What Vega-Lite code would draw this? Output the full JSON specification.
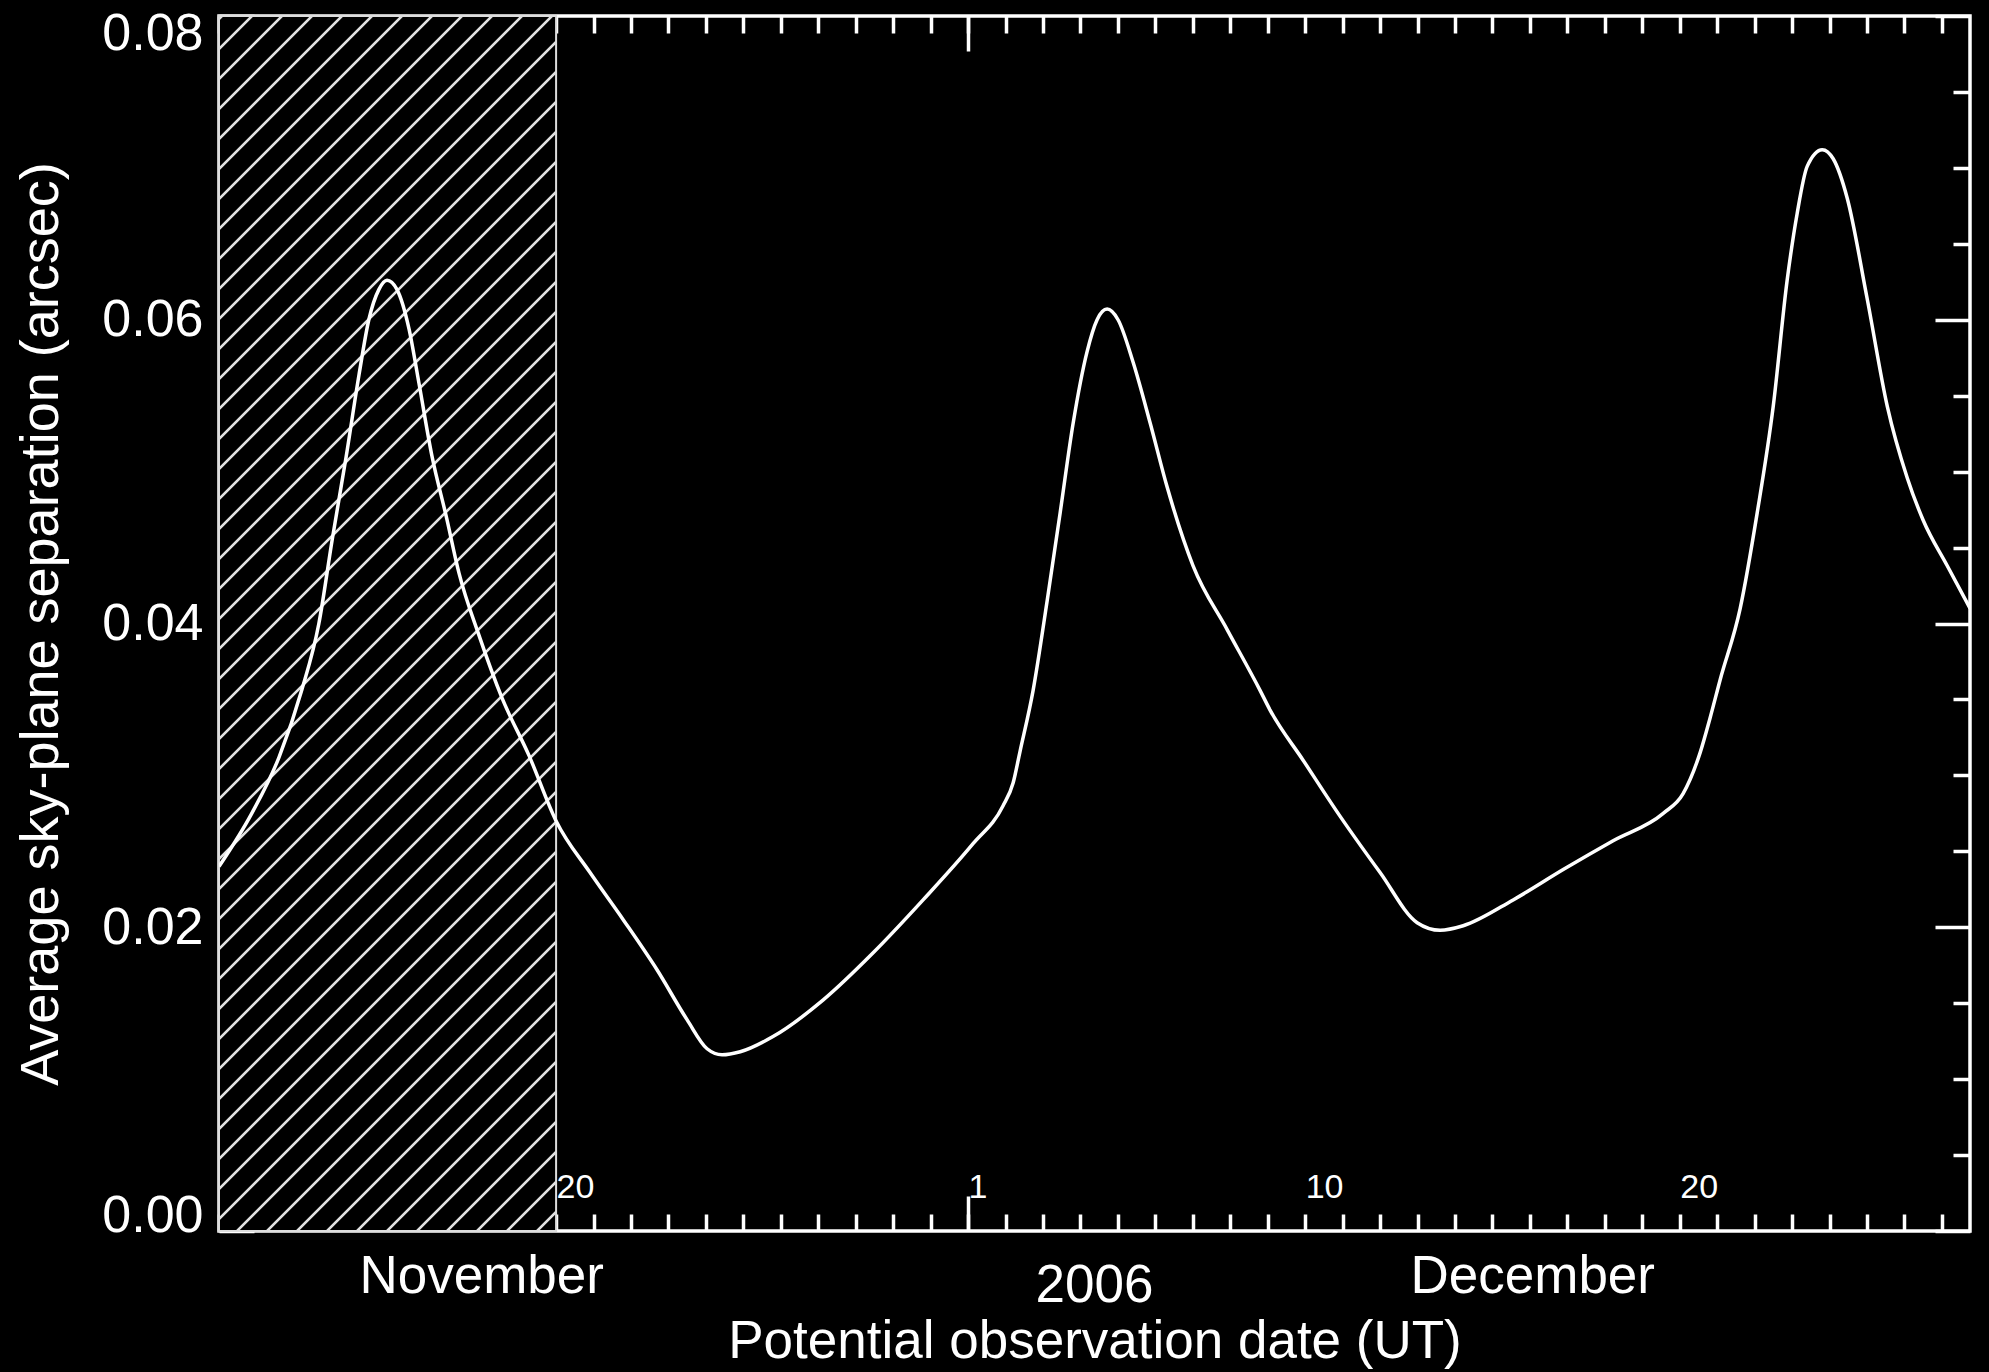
{
  "$schema": "https://vega.github.io/schema/vega-lite/v6.json",
  "width": 1751,
  "height": 1215,
  "autosize": {"type": "none"},
  "padding": {"left": 219, "top": 16, "right": 19, "bottom": 141},
  "background": "#000000",
  "datasets": {
    "curve": [
      {"date": "2006-11-11T00:00:00Z", "sep": 0.0240},
      {"date": "2006-11-11T21:00:00Z", "sep": 0.0275},
      {"date": "2006-11-12T14:30:00Z", "sep": 0.0312},
      {"date": "2006-11-13T05:00:00Z", "sep": 0.0356},
      {"date": "2006-11-13T16:00:00Z", "sep": 0.0400},
      {"date": "2006-11-14T00:30:00Z", "sep": 0.0455},
      {"date": "2006-11-14T09:30:00Z", "sep": 0.0510},
      {"date": "2006-11-14T17:45:00Z", "sep": 0.0564},
      {"date": "2006-11-15T00:00:00Z", "sep": 0.0600},
      {"date": "2006-11-15T06:30:00Z", "sep": 0.0620},
      {"date": "2006-11-15T11:40:00Z", "sep": 0.0626},
      {"date": "2006-11-15T18:00:00Z", "sep": 0.0620},
      {"date": "2006-11-16T01:45:00Z", "sep": 0.0594},
      {"date": "2006-11-16T08:10:00Z", "sep": 0.0558},
      {"date": "2006-11-16T16:30:00Z", "sep": 0.0510},
      {"date": "2006-11-17T01:30:00Z", "sep": 0.0471},
      {"date": "2006-11-17T09:50:00Z", "sep": 0.0433},
      {"date": "2006-11-17T22:40:00Z", "sep": 0.0392},
      {"date": "2006-11-18T13:20:00Z", "sep": 0.0351},
      {"date": "2006-11-19T06:40:00Z", "sep": 0.0313},
      {"date": "2006-11-20T00:00:00Z", "sep": 0.0270},
      {"date": "2006-11-20T21:45:00Z", "sep": 0.0236},
      {"date": "2006-11-21T19:00:00Z", "sep": 0.0205},
      {"date": "2006-11-22T16:40:00Z", "sep": 0.0172},
      {"date": "2006-11-23T12:00:00Z", "sep": 0.0139},
      {"date": "2006-11-24T00:45:00Z", "sep": 0.0120},
      {"date": "2006-11-24T10:20:00Z", "sep": 0.0116},
      {"date": "2006-11-24T22:00:00Z", "sep": 0.0118},
      {"date": "2006-11-25T19:00:00Z", "sep": 0.0128},
      {"date": "2006-11-27T03:00:00Z", "sep": 0.0152},
      {"date": "2006-11-28T11:00:00Z", "sep": 0.0183},
      {"date": "2006-11-29T19:10:00Z", "sep": 0.0218},
      {"date": "2006-12-01T03:10:00Z", "sep": 0.0255},
      {"date": "2006-12-01T22:25:00Z", "sep": 0.0280},
      {"date": "2006-12-02T04:50:00Z", "sep": 0.0295},
      {"date": "2006-12-02T09:20:00Z", "sep": 0.0316},
      {"date": "2006-12-02T17:40:00Z", "sep": 0.0356},
      {"date": "2006-12-03T02:40:00Z", "sep": 0.0415},
      {"date": "2006-12-03T11:00:00Z", "sep": 0.0473},
      {"date": "2006-12-03T19:20:00Z", "sep": 0.0532},
      {"date": "2006-12-04T04:15:00Z", "sep": 0.0579},
      {"date": "2006-12-04T10:40:00Z", "sep": 0.0600},
      {"date": "2006-12-04T17:05:00Z", "sep": 0.0607},
      {"date": "2006-12-05T00:05:00Z", "sep": 0.0600},
      {"date": "2006-12-05T09:45:00Z", "sep": 0.0572},
      {"date": "2006-12-05T20:40:00Z", "sep": 0.0532},
      {"date": "2006-12-06T07:30:00Z", "sep": 0.0490},
      {"date": "2006-12-07T00:10:00Z", "sep": 0.0438},
      {"date": "2006-12-07T22:00:00Z", "sep": 0.0396},
      {"date": "2006-12-08T19:05:00Z", "sep": 0.0356},
      {"date": "2006-12-09T01:30:00Z", "sep": 0.0343},
      {"date": "2006-12-09T22:40:00Z", "sep": 0.0310},
      {"date": "2006-12-10T22:25:00Z", "sep": 0.0273},
      {"date": "2006-12-12T00:00:00Z", "sep": 0.0236},
      {"date": "2006-12-12T23:45:00Z", "sep": 0.0203},
      {"date": "2006-12-13T14:30:00Z", "sep": 0.0198},
      {"date": "2006-12-14T05:15:00Z", "sep": 0.0201},
      {"date": "2006-12-15T13:15:00Z", "sep": 0.0218},
      {"date": "2006-12-16T21:20:00Z", "sep": 0.0238},
      {"date": "2006-12-18T05:20:00Z", "sep": 0.0257},
      {"date": "2006-12-19T13:25:00Z", "sep": 0.0275},
      {"date": "2006-12-20T02:10:00Z", "sep": 0.0288},
      {"date": "2006-12-20T13:05:00Z", "sep": 0.0315},
      {"date": "2006-12-20T19:30:00Z", "sep": 0.0338},
      {"date": "2006-12-21T01:55:00Z", "sep": 0.0363},
      {"date": "2006-12-21T14:45:00Z", "sep": 0.0410},
      {"date": "2006-12-22T01:40:00Z", "sep": 0.0473},
      {"date": "2006-12-22T11:55:00Z", "sep": 0.0543},
      {"date": "2006-12-22T20:50:00Z", "sep": 0.0626},
      {"date": "2006-12-23T03:15:00Z", "sep": 0.0670},
      {"date": "2006-12-23T09:40:00Z", "sep": 0.0701},
      {"date": "2006-12-23T19:20:00Z", "sep": 0.0712},
      {"date": "2006-12-24T02:20:00Z", "sep": 0.0706},
      {"date": "2006-12-24T11:20:00Z", "sep": 0.0680},
      {"date": "2006-12-25T00:05:00Z", "sep": 0.0614},
      {"date": "2006-12-25T13:00:00Z", "sep": 0.0543},
      {"date": "2006-12-26T01:45:00Z", "sep": 0.0496},
      {"date": "2006-12-26T12:00:00Z", "sep": 0.0468},
      {"date": "2006-12-27T03:25:00Z", "sep": 0.0438},
      {"date": "2006-12-27T18:00:00Z", "sep": 0.0410}
    ]
  },
  "config": {
    "font": "Liberation Sans",
    "view": {"stroke": "#ffffff", "strokeWidth": 3.5, "fill": "#000000"},
    "axis": {
      "domain": false,
      "grid": false,
      "tickColor": "#ffffff",
      "tickWidth": 3.5,
      "labelColor": "#ffffff",
      "titleColor": "#ffffff",
      "labelFont": "Liberation Sans",
      "titleFont": "Liberation Sans",
      "titleFontWeight": "normal",
      "labelFlush": false,
      "labelOverlap": false,
      "labelBound": false,
      "labelLimit": 1000,
      "zindex": 2
    }
  },
  "resolve": {"axis": {"x": "independent", "y": "independent"}},
  "layer": [
    {
      "data": {"values": [{"start": "2006-11-11T00:00:00Z", "end": "2006-11-20T00:00:00Z", "low": 0, "high": 0.08}]},
      "mark": {
        "type": "rect",
        "stroke": "#dddddd",
        "strokeWidth": 2,
        "fill": {
          "gradient": "linear",
          "x1": 0, "y1": 0, "x2": 0.6361, "y2": 2.29266,
          "stops": [
            {"offset": 0, "color": "#000000"},
            {"offset": 0.0002, "color": "#000000"}, {"offset": 0.0006, "color": "#e2e2e2"}, {"offset": 0.0014, "color": "#e2e2e2"}, {"offset": 0.0018, "color": "#000000"},
            {"offset": 0.0102, "color": "#000000"}, {"offset": 0.0106, "color": "#e2e2e2"}, {"offset": 0.0114, "color": "#e2e2e2"}, {"offset": 0.0118, "color": "#000000"},
            {"offset": 0.0202, "color": "#000000"}, {"offset": 0.0206, "color": "#e2e2e2"}, {"offset": 0.0214, "color": "#e2e2e2"}, {"offset": 0.0218, "color": "#000000"},
            {"offset": 0.0302, "color": "#000000"}, {"offset": 0.0306, "color": "#e2e2e2"}, {"offset": 0.0314, "color": "#e2e2e2"}, {"offset": 0.0318, "color": "#000000"},
            {"offset": 0.0402, "color": "#000000"}, {"offset": 0.0406, "color": "#e2e2e2"}, {"offset": 0.0414, "color": "#e2e2e2"}, {"offset": 0.0418, "color": "#000000"},
            {"offset": 0.0502, "color": "#000000"}, {"offset": 0.0506, "color": "#e2e2e2"}, {"offset": 0.0514, "color": "#e2e2e2"}, {"offset": 0.0518, "color": "#000000"},
            {"offset": 0.0602, "color": "#000000"}, {"offset": 0.0606, "color": "#e2e2e2"}, {"offset": 0.0614, "color": "#e2e2e2"}, {"offset": 0.0618, "color": "#000000"},
            {"offset": 0.0702, "color": "#000000"}, {"offset": 0.0706, "color": "#e2e2e2"}, {"offset": 0.0714, "color": "#e2e2e2"}, {"offset": 0.0718, "color": "#000000"},
            {"offset": 0.0802, "color": "#000000"}, {"offset": 0.0806, "color": "#e2e2e2"}, {"offset": 0.0814, "color": "#e2e2e2"}, {"offset": 0.0818, "color": "#000000"},
            {"offset": 0.0902, "color": "#000000"}, {"offset": 0.0906, "color": "#e2e2e2"}, {"offset": 0.0914, "color": "#e2e2e2"}, {"offset": 0.0918, "color": "#000000"},
            {"offset": 0.1002, "color": "#000000"}, {"offset": 0.1006, "color": "#e2e2e2"}, {"offset": 0.1014, "color": "#e2e2e2"}, {"offset": 0.1018, "color": "#000000"},
            {"offset": 0.1102, "color": "#000000"}, {"offset": 0.1106, "color": "#e2e2e2"}, {"offset": 0.1114, "color": "#e2e2e2"}, {"offset": 0.1118, "color": "#000000"},
            {"offset": 0.1202, "color": "#000000"}, {"offset": 0.1206, "color": "#e2e2e2"}, {"offset": 0.1214, "color": "#e2e2e2"}, {"offset": 0.1218, "color": "#000000"},
            {"offset": 0.1302, "color": "#000000"}, {"offset": 0.1306, "color": "#e2e2e2"}, {"offset": 0.1314, "color": "#e2e2e2"}, {"offset": 0.1318, "color": "#000000"},
            {"offset": 0.1402, "color": "#000000"}, {"offset": 0.1406, "color": "#e2e2e2"}, {"offset": 0.1414, "color": "#e2e2e2"}, {"offset": 0.1418, "color": "#000000"},
            {"offset": 0.1502, "color": "#000000"}, {"offset": 0.1506, "color": "#e2e2e2"}, {"offset": 0.1514, "color": "#e2e2e2"}, {"offset": 0.1518, "color": "#000000"},
            {"offset": 0.1602, "color": "#000000"}, {"offset": 0.1606, "color": "#e2e2e2"}, {"offset": 0.1614, "color": "#e2e2e2"}, {"offset": 0.1618, "color": "#000000"},
            {"offset": 0.1702, "color": "#000000"}, {"offset": 0.1706, "color": "#e2e2e2"}, {"offset": 0.1714, "color": "#e2e2e2"}, {"offset": 0.1718, "color": "#000000"},
            {"offset": 0.1802, "color": "#000000"}, {"offset": 0.1806, "color": "#e2e2e2"}, {"offset": 0.1814, "color": "#e2e2e2"}, {"offset": 0.1818, "color": "#000000"},
            {"offset": 0.1902, "color": "#000000"}, {"offset": 0.1906, "color": "#e2e2e2"}, {"offset": 0.1914, "color": "#e2e2e2"}, {"offset": 0.1918, "color": "#000000"},
            {"offset": 0.2002, "color": "#000000"}, {"offset": 0.2006, "color": "#e2e2e2"}, {"offset": 0.2014, "color": "#e2e2e2"}, {"offset": 0.2018, "color": "#000000"},
            {"offset": 0.2102, "color": "#000000"}, {"offset": 0.2106, "color": "#e2e2e2"}, {"offset": 0.2114, "color": "#e2e2e2"}, {"offset": 0.2118, "color": "#000000"},
            {"offset": 0.2202, "color": "#000000"}, {"offset": 0.2206, "color": "#e2e2e2"}, {"offset": 0.2214, "color": "#e2e2e2"}, {"offset": 0.2218, "color": "#000000"},
            {"offset": 0.2302, "color": "#000000"}, {"offset": 0.2306, "color": "#e2e2e2"}, {"offset": 0.2314, "color": "#e2e2e2"}, {"offset": 0.2318, "color": "#000000"},
            {"offset": 0.2402, "color": "#000000"}, {"offset": 0.2406, "color": "#e2e2e2"}, {"offset": 0.2414, "color": "#e2e2e2"}, {"offset": 0.2418, "color": "#000000"},
            {"offset": 0.2502, "color": "#000000"}, {"offset": 0.2506, "color": "#e2e2e2"}, {"offset": 0.2514, "color": "#e2e2e2"}, {"offset": 0.2518, "color": "#000000"},
            {"offset": 0.2602, "color": "#000000"}, {"offset": 0.2606, "color": "#e2e2e2"}, {"offset": 0.2614, "color": "#e2e2e2"}, {"offset": 0.2618, "color": "#000000"},
            {"offset": 0.2702, "color": "#000000"}, {"offset": 0.2706, "color": "#e2e2e2"}, {"offset": 0.2714, "color": "#e2e2e2"}, {"offset": 0.2718, "color": "#000000"},
            {"offset": 0.2802, "color": "#000000"}, {"offset": 0.2806, "color": "#e2e2e2"}, {"offset": 0.2814, "color": "#e2e2e2"}, {"offset": 0.2818, "color": "#000000"},
            {"offset": 0.2902, "color": "#000000"}, {"offset": 0.2906, "color": "#e2e2e2"}, {"offset": 0.2914, "color": "#e2e2e2"}, {"offset": 0.2918, "color": "#000000"},
            {"offset": 0.3002, "color": "#000000"}, {"offset": 0.3006, "color": "#e2e2e2"}, {"offset": 0.3014, "color": "#e2e2e2"}, {"offset": 0.3018, "color": "#000000"},
            {"offset": 0.3102, "color": "#000000"}, {"offset": 0.3106, "color": "#e2e2e2"}, {"offset": 0.3114, "color": "#e2e2e2"}, {"offset": 0.3118, "color": "#000000"},
            {"offset": 0.3202, "color": "#000000"}, {"offset": 0.3206, "color": "#e2e2e2"}, {"offset": 0.3214, "color": "#e2e2e2"}, {"offset": 0.3218, "color": "#000000"},
            {"offset": 0.3302, "color": "#000000"}, {"offset": 0.3306, "color": "#e2e2e2"}, {"offset": 0.3314, "color": "#e2e2e2"}, {"offset": 0.3318, "color": "#000000"},
            {"offset": 0.3402, "color": "#000000"}, {"offset": 0.3406, "color": "#e2e2e2"}, {"offset": 0.3414, "color": "#e2e2e2"}, {"offset": 0.3418, "color": "#000000"},
            {"offset": 0.3502, "color": "#000000"}, {"offset": 0.3506, "color": "#e2e2e2"}, {"offset": 0.3514, "color": "#e2e2e2"}, {"offset": 0.3518, "color": "#000000"},
            {"offset": 0.3602, "color": "#000000"}, {"offset": 0.3606, "color": "#e2e2e2"}, {"offset": 0.3614, "color": "#e2e2e2"}, {"offset": 0.3618, "color": "#000000"},
            {"offset": 0.3702, "color": "#000000"}, {"offset": 0.3706, "color": "#e2e2e2"}, {"offset": 0.3714, "color": "#e2e2e2"}, {"offset": 0.3718, "color": "#000000"},
            {"offset": 0.3802, "color": "#000000"}, {"offset": 0.3806, "color": "#e2e2e2"}, {"offset": 0.3814, "color": "#e2e2e2"}, {"offset": 0.3818, "color": "#000000"},
            {"offset": 0.3902, "color": "#000000"}, {"offset": 0.3906, "color": "#e2e2e2"}, {"offset": 0.3914, "color": "#e2e2e2"}, {"offset": 0.3918, "color": "#000000"},
            {"offset": 0.4002, "color": "#000000"}, {"offset": 0.4006, "color": "#e2e2e2"}, {"offset": 0.4014, "color": "#e2e2e2"}, {"offset": 0.4018, "color": "#000000"},
            {"offset": 0.4102, "color": "#000000"}, {"offset": 0.4106, "color": "#e2e2e2"}, {"offset": 0.4114, "color": "#e2e2e2"}, {"offset": 0.4118, "color": "#000000"},
            {"offset": 0.4202, "color": "#000000"}, {"offset": 0.4206, "color": "#e2e2e2"}, {"offset": 0.4214, "color": "#e2e2e2"}, {"offset": 0.4218, "color": "#000000"},
            {"offset": 0.4302, "color": "#000000"}, {"offset": 0.4306, "color": "#e2e2e2"}, {"offset": 0.4314, "color": "#e2e2e2"}, {"offset": 0.4318, "color": "#000000"},
            {"offset": 0.4402, "color": "#000000"}, {"offset": 0.4406, "color": "#e2e2e2"}, {"offset": 0.4414, "color": "#e2e2e2"}, {"offset": 0.4418, "color": "#000000"},
            {"offset": 0.4502, "color": "#000000"}, {"offset": 0.4506, "color": "#e2e2e2"}, {"offset": 0.4514, "color": "#e2e2e2"}, {"offset": 0.4518, "color": "#000000"},
            {"offset": 0.4602, "color": "#000000"}, {"offset": 0.4606, "color": "#e2e2e2"}, {"offset": 0.4614, "color": "#e2e2e2"}, {"offset": 0.4618, "color": "#000000"},
            {"offset": 0.4702, "color": "#000000"}, {"offset": 0.4706, "color": "#e2e2e2"}, {"offset": 0.4714, "color": "#e2e2e2"}, {"offset": 0.4718, "color": "#000000"},
            {"offset": 0.4802, "color": "#000000"}, {"offset": 0.4806, "color": "#e2e2e2"}, {"offset": 0.4814, "color": "#e2e2e2"}, {"offset": 0.4818, "color": "#000000"},
            {"offset": 0.4902, "color": "#000000"}, {"offset": 0.4906, "color": "#e2e2e2"}, {"offset": 0.4914, "color": "#e2e2e2"}, {"offset": 0.4918, "color": "#000000"},
            {"offset": 0.5002, "color": "#000000"}, {"offset": 0.5006, "color": "#e2e2e2"}, {"offset": 0.5014, "color": "#e2e2e2"}, {"offset": 0.5018, "color": "#000000"},
            {"offset": 0.5102, "color": "#000000"}, {"offset": 0.5106, "color": "#e2e2e2"}, {"offset": 0.5114, "color": "#e2e2e2"}, {"offset": 0.5118, "color": "#000000"},
            {"offset": 1, "color": "#000000"}
          ]
        }
      },
      "encoding": {
        "x": {
          "field": "start", "type": "temporal",
          "scale": {"type": "utc", "domain": [{"year": 2006, "month": 11, "date": 11, "utc": true}, {"year": 2006, "month": 12, "date": 27, "hours": 18, "utc": true}], "nice": false},
          "axis": {
            "orient": "bottom",
            "values": [{"year": 2006, "month": 11, "date": 18, "utc": true}, {"year": 2006, "month": 12, "date": 4, "hours": 8, "minutes": 40, "utc": true}, {"year": 2006, "month": 12, "date": 16, "hours": 1, "minutes": 30, "utc": true}],
            "ticks": false,
            "tickSize": 0,
            "labelExpr": "utcmonth(datum.value) == 10 ? 'November' : (utcdate(datum.value) == 4 ? '2006' : 'December')",
            "labelFontSize": 53,
            "labelAlign": "center",
            "labelBaseline": "top",
            "labelPadding": {"condition": {"test": "utcdate(datum.value) == 4", "value": 28}, "value": 19},
            "title": "Potential observation date (UT)",
            "titleFontSize": 53,
            "titlePadding": 3
          }
        },
        "x2": {"field": "end"},
        "y": {
          "field": "low", "type": "quantitative",
          "scale": {"domain": [0, 0.08], "nice": false, "zero": false},
          "axis": {
            "orient": "left",
            "values": [0, 0.02, 0.04, 0.06, 0.08],
            "tickSize": -35,
            "format": ".2f",
            "labelFontSize": 52,
            "labelPadding": 51,
            "labelBaseline": {"condition": [{"test": "datum.value == 0", "value": "alphabetic"}, {"test": "datum.value > 0.079", "value": "top"}], "value": "middle"},
            "labelOffset": {"condition": {"test": "datum.value > 0.079", "value": -8}, "value": 0},
            "title": "Average sky-plane separation (arcsec)",
            "titleFontSize": 54,
            "titlePadding": 33
          }
        },
        "y2": {"field": "high"}
      }
    },
    {
      "data": {"name": "curve"},
      "mark": {"type": "line", "color": "#ffffff", "strokeWidth": 3.5, "interpolate": "monotone", "clip": true},
      "encoding": {
        "x": {
          "field": "date", "type": "temporal",
          "scale": {"type": "utc", "domain": [{"year": 2006, "month": 11, "date": 11, "utc": true}, {"year": 2006, "month": 12, "date": 27, "hours": 18, "utc": true}], "nice": false},
          "axis": {
            "orient": "bottom",
            "tickCount": {"interval": "day", "step": 1},
            "tickSize": -17,
            "labelExpr": "(utcdate(datum.value) == 1 || utcdate(datum.value) == 10 || utcdate(datum.value) == 20) ? '' + utcdate(datum.value) : ''",
            "labelFontSize": 34,
            "labelAlign": "left",
            "labelBaseline": "alphabetic",
            "labelPadding": -17,
            "title": null
          }
        },
        "y": {
          "field": "sep", "type": "quantitative",
          "scale": {"domain": [0, 0.08], "nice": false, "zero": false},
          "axis": {
            "orient": "left",
            "values": [0.005, 0.01, 0.015, 0.025, 0.03, 0.035, 0.045, 0.05, 0.055, 0.065, 0.07, 0.075],
            "tickSize": -17,
            "labels": false,
            "title": null
          }
        }
      }
    },
    {
      "data": {"name": "curve"},
      "mark": {"type": "line", "opacity": 0},
      "encoding": {
        "x": {
          "field": "date", "type": "temporal",
          "scale": {"type": "utc", "domain": [{"year": 2006, "month": 11, "date": 11, "utc": true}, {"year": 2006, "month": 12, "date": 27, "hours": 18, "utc": true}], "nice": false},
          "axis": {"orient": "bottom", "values": [{"year": 2006, "month": 12, "date": 1, "utc": true}], "tickSize": -35, "labels": false, "title": null}
        },
        "y": {
          "field": "sep", "type": "quantitative",
          "scale": {"domain": [0, 0.08], "nice": false, "zero": false},
          "axis": {"orient": "right", "values": [0, 0.02, 0.04, 0.06, 0.08], "tickSize": -35, "labels": false, "title": null}
        }
      }
    },
    {
      "data": {"name": "curve"},
      "mark": {"type": "line", "opacity": 0},
      "encoding": {
        "x": {
          "field": "date", "type": "temporal",
          "scale": {"type": "utc", "domain": [{"year": 2006, "month": 11, "date": 11, "utc": true}, {"year": 2006, "month": 12, "date": 27, "hours": 18, "utc": true}], "nice": false},
          "axis": {"orient": "top", "tickCount": {"interval": "day", "step": 1}, "tickSize": -17, "labels": false, "title": null}
        },
        "y": {
          "field": "sep", "type": "quantitative",
          "scale": {"domain": [0, 0.08], "nice": false, "zero": false},
          "axis": {"orient": "right", "values": [0.005, 0.01, 0.015, 0.025, 0.03, 0.035, 0.045, 0.05, 0.055, 0.065, 0.07, 0.075], "tickSize": -17, "labels": false, "title": null}
        }
      }
    },
    {
      "data": {"name": "curve"},
      "mark": {"type": "line", "opacity": 0},
      "encoding": {
        "x": {
          "field": "date", "type": "temporal",
          "scale": {"type": "utc", "domain": [{"year": 2006, "month": 11, "date": 11, "utc": true}, {"year": 2006, "month": 12, "date": 27, "hours": 18, "utc": true}], "nice": false},
          "axis": {"orient": "top", "values": [{"year": 2006, "month": 12, "date": 1, "utc": true}], "tickSize": -35, "labels": false, "title": null}
        },
        "y": {
          "field": "sep", "type": "quantitative",
          "scale": {"domain": [0, 0.08], "nice": false, "zero": false},
          "axis": null
        }
      }
    }
  ]
}
